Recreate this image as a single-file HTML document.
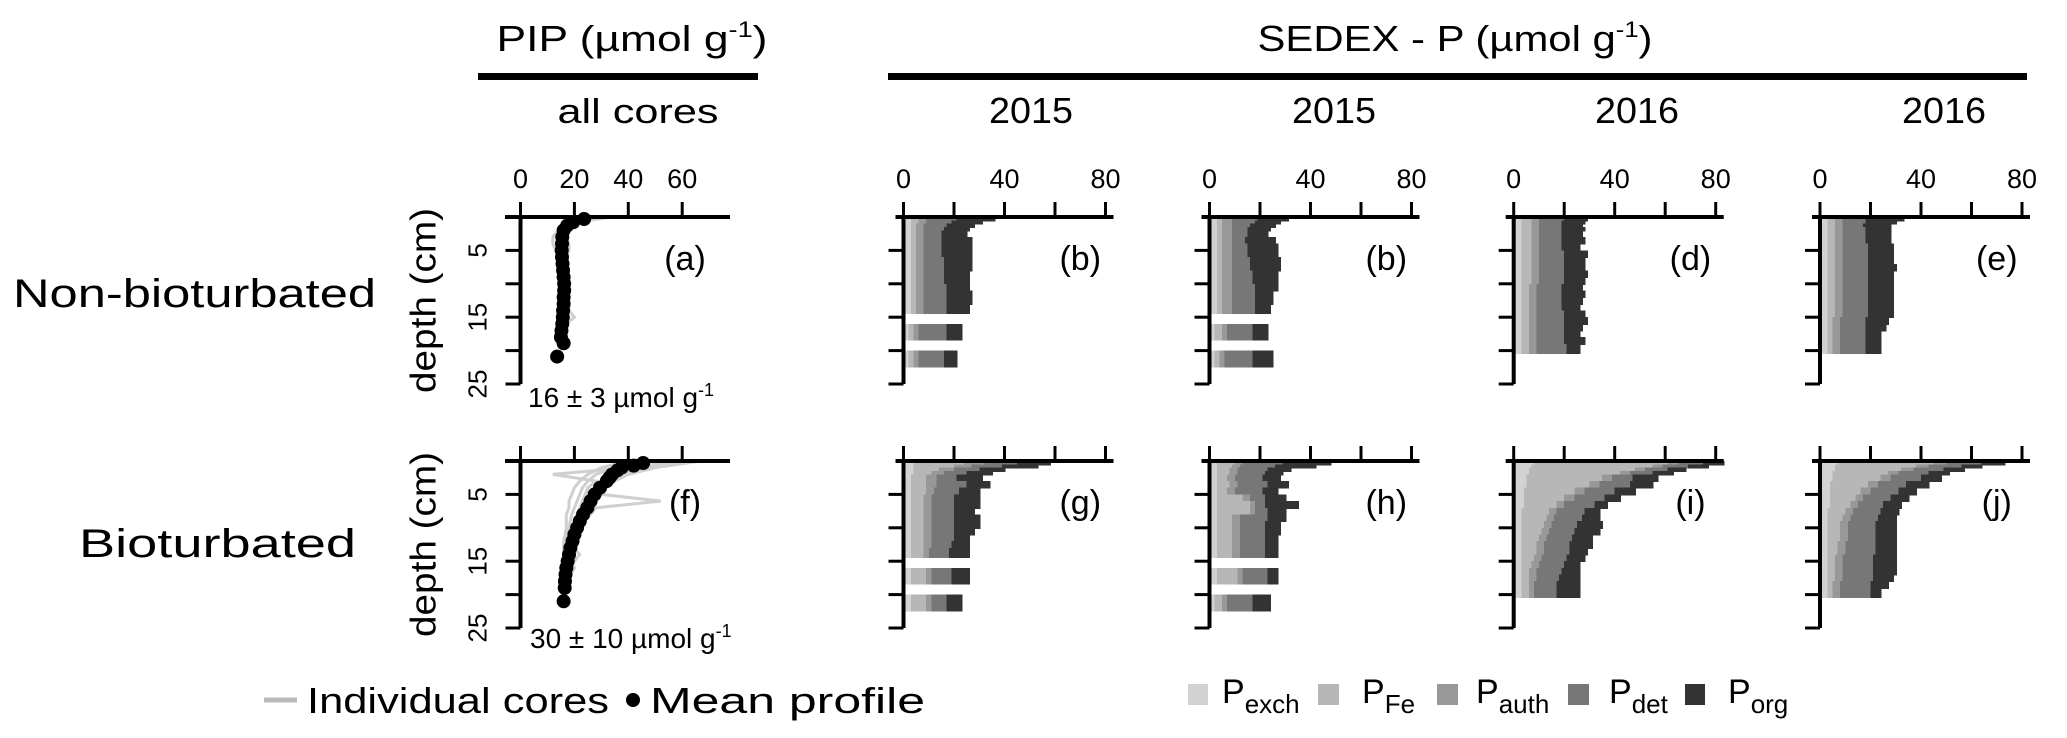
<!DOCTYPE html>
<html><head><meta charset="utf-8"><style>
html,body{margin:0;padding:0;background:#fff;}
svg{display:block;font-family:"Liberation Sans","DejaVu Sans",sans-serif;}
</style></head><body>
<svg id="fig" width="2067" height="738" viewBox="0 0 2067 738">
<g id="static">
<text x="632" y="51" font-size="36" text-anchor="middle" textLength="271" lengthAdjust="spacingAndGlyphs">PIP (µmol g<tspan font-size="22" dy="-14">-1</tspan><tspan dy="14">)</tspan></text>
<rect x="478" y="73" width="280" height="7" fill="#000"/>
<text x="638" y="123" font-size="34" text-anchor="middle" textLength="161" lengthAdjust="spacingAndGlyphs">all cores</text>
<text x="1455" y="51" font-size="36" text-anchor="middle" textLength="395" lengthAdjust="spacingAndGlyphs">SEDEX - P (µmol g<tspan font-size="22" dy="-14">-1</tspan><tspan dy="14">)</tspan></text>
<rect x="888" y="73" width="1139" height="7" fill="#000"/>
<text x="1031" y="123" font-size="36" text-anchor="middle" textLength="84" lengthAdjust="spacingAndGlyphs">2015</text>
<text x="1334" y="123" font-size="36" text-anchor="middle" textLength="84" lengthAdjust="spacingAndGlyphs">2015</text>
<text x="1637" y="123" font-size="36" text-anchor="middle" textLength="84" lengthAdjust="spacingAndGlyphs">2016</text>
<text x="1944" y="123" font-size="36" text-anchor="middle" textLength="84" lengthAdjust="spacingAndGlyphs">2016</text>
<text x="13" y="307" font-size="40" textLength="363" lengthAdjust="spacingAndGlyphs">Non-bioturbated</text>
<text x="79" y="557" font-size="40" textLength="277" lengthAdjust="spacingAndGlyphs">Bioturbated</text>
<line x1="264" y1="700" x2="297" y2="700" stroke="#bbb" stroke-width="5"/>
<text x="307" y="713" font-size="36" textLength="302" lengthAdjust="spacingAndGlyphs">Individual cores</text>
<circle cx="633" cy="700" r="7" fill="#000"/>
<text x="650" y="713" font-size="36" textLength="275" lengthAdjust="spacingAndGlyphs">Mean profile</text>
<rect x="1188" y="684" width="20" height="21" fill="#d2d2d2"/>
<text x="1222" y="703" font-size="34">P<tspan font-size="26" dy="10">exch</tspan></text>
<rect x="1318" y="684" width="21" height="21" fill="#b7b7b7"/>
<text x="1362" y="703" font-size="34">P<tspan font-size="26" dy="10">Fe</tspan></text>
<rect x="1437" y="684" width="21" height="21" fill="#989898"/>
<text x="1476" y="703" font-size="34">P<tspan font-size="26" dy="10">auth</tspan></text>
<rect x="1568" y="684" width="21" height="21" fill="#777"/>
<text x="1609" y="703" font-size="34">P<tspan font-size="26" dy="10">det</tspan></text>
<rect x="1685" y="684" width="20" height="21" fill="#333"/>
<text x="1728" y="703" font-size="34">P<tspan font-size="26" dy="10">org</tspan></text>
<text x="528" y="407" font-size="28">16 ± 3 µmol g<tspan font-size="18" dy="-11">-1</tspan></text>
<text x="530" y="648" font-size="28">30 ± 10 µmol g<tspan font-size="18" dy="-11">-1</tspan></text>
</g>
<g id="plots"></g>
</svg>
<script>
// ---------- data ----------
const pipTicks = [0, 20, 40, 60];
const sedexTicks = [0, 20, 40, 60, 80];
const sedexTickLabels = ["0", "", "40", "", "80"];
const depthTicks = [5, 10, 15, 20, 25];
const depthTickLabels = ["5", "", "15", "", "25"];

const coreDepthA = [0, 0.5, 1, 2, 3, 4, 5, 6, 8, 10, 12, 14, 15, 16, 18];
const coreA1 = [30, 22, 17, 14, 12, 12, 13, 14, 15, 15, 16, 16, 17, 16, 15];
const coreA2 = [34, 25, 19, 17, 17, 18, 18, 17, 17, 16, 17, 18, 20, 17, 16];
const coreA3 = [28, 21, 18, 16, 15, 15, 16, 17, 17, 18, 18, 18, 16, 15, 14];
const coreA4 = [26, 20, 16, 15, 14, 14, 14, 15, 15, 15, 15, 15, 15, 14, 13];
const meanDepthA = [0.3, 0.8, 1.3, 2, 3, 4, 5, 6, 7, 8, 9, 10, 11, 12, 13, 14, 15, 16, 17, 18, 18.9, 20.9];
const meanA = [23.6, 19.5, 17.3, 16, 15.5, 15.4, 15.3, 15.4, 15.6, 15.8, 16, 16.2, 16.2, 16, 16, 15.8, 15.7, 15.5, 15.2, 15, 16, 13.6];

const coreDepthF = [0, 1, 2, 3, 4, 5, 6, 7, 8, 10, 12, 14, 16, 18];
const coreF1 = [67, 50, 40, 35, 32, 30, 52, 28, 26, 22, 20, 19, 18, 17];
const coreF2 = [60, 45, 36, 32, 30, 28, 27, 25, 24, 22, 20, 19, 18, 16];
const coreF3 = [55, 40, 12, 28, 25, 24, 23, 22, 21, 20, 19, 18, 20, 17];
const coreF4 = [50, 35, 28, 25, 23, 22, 21, 20, 19, 18, 17, 22, 18, 16];
const coreF5 = [45, 38, 33, 30, 29, 28, 28, 27, 24, 23, 21, 20, 19, 18];
const coreF6 = [40, 30, 25, 22, 20, 19, 18, 18, 17, 17, 16, 16, 16, 15];
const meanDepthF = [0.3, 0.7, 1, 1.4, 2, 2.5, 3, 4, 5, 6, 7, 8, 9, 10, 11, 12, 13, 14, 15, 16, 17, 18, 19, 21];
const meanF = [45.5, 42, 37.5, 36, 34, 33, 32, 29.5, 27.5, 26, 24.8, 23.2, 22, 21, 20, 19.3, 18.5, 18, 17.5, 17, 16.7, 16.5, 16.4, 16];

// layer intervals [top, bottom] in cm
const layers2015 = [[0,0.5],[0.5,1],[1,1.5],[1.5,2],[2,3],[3,4],[4,5],[5,6],[6,7],[7,8],[8,9],[9,10],[10,11],[11,12],[12,13],[13,14.5],[16,18.5],[20,22.5]];
const layers2016 = [[0,0.5],[0.5,1],[1,1.5],[1.5,2],[2,3],[3,4],[4,5],[5,6],[6,7],[7,8],[8,9],[9,10],[10,11],[11,12],[12,13],[13,14],[14,15],[15,16],[16,17],[17,18],[18,19],[19,20.5]];
const fractions = ["Pexch", "PFe", "Pauth", "Pdet", "Porg"];

// rows: [Pexch, PFe, Pauth, Pdet, Porg]
const sedexB = [[3,3,3,12,15],[3,3,3,10,12],[3,2,3,9,11],[3,2,3,8,10],[3,2,3,7,10],[3,2,3,7,12],[3,2,3,7,12],[3,2,3,7,12],[3,2,3,8,11],[3,2,3,8,11],[3,2,3,8,10],[3,2,3,8,10],[3,2,3,9,9],[3,2,3,9,10],[3,2,3,9,10],[3,2,3,9,9],[2,2,2,11,6],[2,2,2,10,5]];
const sedexB2 = [[3,2,4,10,12],[3,2,4,9,10],[3,2,4,7,10],[3,2,4,6,9],[3,2,4,6,8],[3,2,4,5,12],[3,2,4,6,12],[3,2,4,6,12],[3,2,4,7,12],[3,2,4,7,12],[3,2,4,8,10],[3,2,4,8,10],[3,2,4,9,9],[3,2,4,9,7],[3,2,4,9,7],[3,2,4,9,6],[2,3,2,10,6],[2,2,2,11,8]];
const sedexD = [[3,4,3,10,9],[3,4,3,9,9],[3,4,3,9,8],[3,4,3,9,9],[3,4,3,9,8],[3,4,3,9,9],[3,4,3,9,7],[3,4,3,10,9],[3,4,3,10,8],[3,4,3,10,8],[3,4,3,10,9],[3,4,3,10,8],[3,3,3,10,8],[3,3,3,10,9],[3,3,3,10,8],[3,3,3,10,7],[3,3,3,11,8],[3,3,3,11,9],[3,3,3,11,7],[3,3,3,11,6],[3,3,3,11,8],[3,3,3,12,5]];
const sedexE = [[3,3,3,9,15],[3,3,3,9,12],[3,3,3,8,11],[3,3,3,9,10],[3,3,3,9,10],[3,3,3,9,10],[3,3,3,10,10],[3,3,3,10,10],[3,3,3,10,10],[3,3,3,10,11],[3,3,3,10,10],[3,3,3,10,10],[3,3,3,10,10],[3,3,3,10,10],[3,3,3,10,10],[3,3,3,10,10],[3,3,3,10,10],[3,2,3,10,9],[3,2,3,10,8],[3,2,3,10,6],[3,2,3,10,6],[3,2,3,10,6]];
const sedexG = [[4,20,8,13,13],[4,16,7,12,14],[4,10,6,10,10],[4,7,5,9,10],[3,6,4,8,10],[3,6,4,12,9],[3,6,3,10,8],[3,5,3,9,10],[3,5,3,9,10],[3,5,3,9,8],[3,5,3,9,10],[3,5,3,9,10],[3,5,3,9,8],[3,5,3,9,6],[3,5,3,8,7],[3,5,2,8,8],[3,6,2,8,7],[3,6,2,6,6]];
const sedexH = [[3,7,3,16,19],[3,6,3,14,16],[3,5,3,12,9],[3,5,3,11,7],[3,4,3,11,7],[3,5,3,12,8],[3,4,3,11,6],[3,10,3,6,8],[3,13,2,4,13],[3,13,2,5,7],[3,6,3,11,7],[3,6,3,10,6],[3,6,3,10,6],[3,6,3,10,5],[3,6,3,10,5],[3,6,3,10,5],[3,8,2,10,4],[2,3,2,10,7]];
const sedexI = [[8,53,4,10,8],[7,48,4,10,8],[6,42,4,9,7],[6,36,4,9,8],[5,30,4,8,10],[5,25,4,12,9],[4,20,4,12,8],[4,16,4,12,6],[4,13,3,12,5],[3,11,3,11,6],[3,10,3,11,7],[3,9,3,10,10],[3,8,3,10,10],[3,7,3,10,8],[3,6,3,10,9],[3,6,3,10,7],[3,5,3,10,7],[3,4,3,10,6],[3,3,3,10,7],[3,3,3,9,8],[3,3,2,9,9],[3,3,2,9,9]];
const sedexJ = [[7,38,5,14,9],[6,32,5,13,8],[6,26,5,12,8],[5,22,4,12,8],[5,19,4,12,8],[4,15,4,11,9],[4,12,4,11,7],[4,10,3,11,7],[4,8,3,10,7],[3,7,3,11,7],[3,6,3,11,7],[3,5,3,11,8],[3,5,3,11,8],[3,5,3,11,8],[3,4,3,12,8],[3,4,3,12,8],[3,3,3,12,9],[3,3,3,12,9],[3,3,3,12,9],[3,3,3,12,8],[3,2,3,12,7],[3,2,3,12,4]];

// ---------- drawing ----------
const NS = "http://www.w3.org/2000/svg";
const plots = document.getElementById("plots");
const colors = ["#d2d2d2", "#b7b7b7", "#989898", "#777777", "#333333"];
const PXCM = 6.68;
function mk(tag, parent, attrs) {
  const e = document.createElementNS(NS, tag);
  for (const k in attrs) e.setAttribute(k, attrs[k]);
  parent.appendChild(e);
  return e;
}
function yScale(y0) { return d => y0 + d * PXCM; }

function drawAxes(g, x, y, x0, y0, ticks, tickLabels, axisEnd, lineStart, showDepthLabels, showTickLabels) {
  const ax = mk("line", g, {x1: lineStart, y1: y0, x2: axisEnd, y2: y0, stroke: "#000", "stroke-width": 4});
  
  
  ticks.forEach((t, i) => {
    const tk = mk("line", g, {x1: x(t), y1: y0, x2: x(t), y2: y0 - 15, stroke: "#000", "stroke-width": 3});
    
    
    if (showTickLabels && tickLabels[i] !== "") {
      const tl = mk("text", g, {x: x(t), y: y0 - 29, "font-size": 27, "text-anchor": "middle"});
      tl.textContent = tickLabels[i];
      
      
    }
  });
  const ly = mk("line", g, {x1: x0, y1: y0, x2: x0, y2: y(25), stroke: "#000", "stroke-width": 4});
  
  
  depthTicks.forEach((d, i) => {
    const tk = mk("line", g, {x1: x0, y1: y(d), x2: x0 - 15, y2: y(d), stroke: "#000", "stroke-width": 3});
    
    
    if (showDepthLabels && depthTickLabels[i] !== "") {
      const tl = mk("text", g, {x: 0, y: 0, "font-size": 26, "text-anchor": "middle", transform: `translate(${x0 - 34},${y(d)}) rotate(-90)`});
      tl.textContent = depthTickLabels[i];
      
      
    }
  });
  if (showDepthLabels) {
    const t = mk("text", g, {x: 0, y: 0, "font-size": 36, "text-anchor": "middle", transform: `translate(${x0 - 85},${y(12.5)}) rotate(-90)`, textLength: 185, lengthAdjust: "spacingAndGlyphs"});
    t.textContent = "depth (cm)";
    
    
  }
}

function panelLabel(g, txt, px, py) {
  const t = mk("text", g, {x: px, y: py, "font-size": 34, "text-anchor": "middle"});
  t.textContent = txt;
  
  
}

function drawPIP(name, y0, coreDepths, cores, meanDepths, means, label, showTL) {
  const g = mk("g", plots, {});
  
  
  const x0 = 520.5, u = 2.695;
  const x = v => x0 + v * u, y = yScale(y0);
  cores.forEach(c => {
    const pts = c.map((v, i) => `${x(v)},${y(coreDepths[i])}`).join(" ");
    const pl = mk("polyline", g, {points: pts, fill: "none", stroke: "#cfcfcf", "stroke-width": 3});
    
    
  });
  drawAxes(g, x, y, x0, y0, pipTicks, pipTicks.map(String), 730, 505, true, showTL);
  means.forEach((v, i) => {
    const c = mk("circle", g, {cx: x(v), cy: y(meanDepths[i]), r: 7, fill: "#000"});
    
    
  });
  panelLabel(g, label, 685, y0 + 53);
}

function drawSedex(name, x0, y0, layers, rows, label, showTL) {
  const g = mk("g", plots, {"shape-rendering": "crispEdges"});
  
  
  const u = 2.525;
  const x = v => x0 + v * u, y = yScale(y0);
  rows.forEach((r, i) => {
    let cum = 0;
    const contiguous = i + 1 < rows.length && layers[i + 1][0] === layers[i][1];
    r.forEach((v, k) => {
      const h = y(layers[i][1]) - y(layers[i][0]) + (contiguous ? 1 : 0);
      const rc = mk("rect", g, {x: x(cum), y: y(layers[i][0]), width: Math.max(0, x(cum + v) - x(cum)) + 1, height: h, fill: colors[k]});
      
      
      cum += v;
    });
  });
  const ag = mk("g", g, {"shape-rendering": "auto"});
  
  
  drawAxes(ag, x, y, x0, y0, sedexTicks, sedexTickLabels, x(80) + 8, x0 - 8, false, showTL);
  panelLabel(g, label, x(70), y0 + 53);
}

const top0 = 217, bot0 = 461;
drawPIP("panel-a", top0, coreDepthA, [coreA1, coreA2, coreA3, coreA4], meanDepthA, meanA, "(a)", true);
drawPIP("panel-f", bot0, coreDepthF, [coreF1, coreF2, coreF3, coreF4, coreF5, coreF6], meanDepthF, meanF, "(f)", false);
drawSedex("panel-b", 903.5, top0, layers2015, sedexB, "(b)", true);
drawSedex("panel-b2", 1209.5, top0, layers2015, sedexB2, "(b)", true);
drawSedex("panel-d", 1513.7, top0, layers2016, sedexD, "(d)", true);
drawSedex("panel-e", 1820, top0, layers2016, sedexE, "(e)", true);
drawSedex("panel-g", 903.5, bot0, layers2015, sedexG, "(g)", false);
drawSedex("panel-h", 1209.5, bot0, layers2015, sedexH, "(h)", false);
drawSedex("panel-i", 1513.7, bot0, layers2016, sedexI, "(i)", false);
drawSedex("panel-j", 1820, bot0, layers2016, sedexJ, "(j)", false);
</script>
</body></html>
